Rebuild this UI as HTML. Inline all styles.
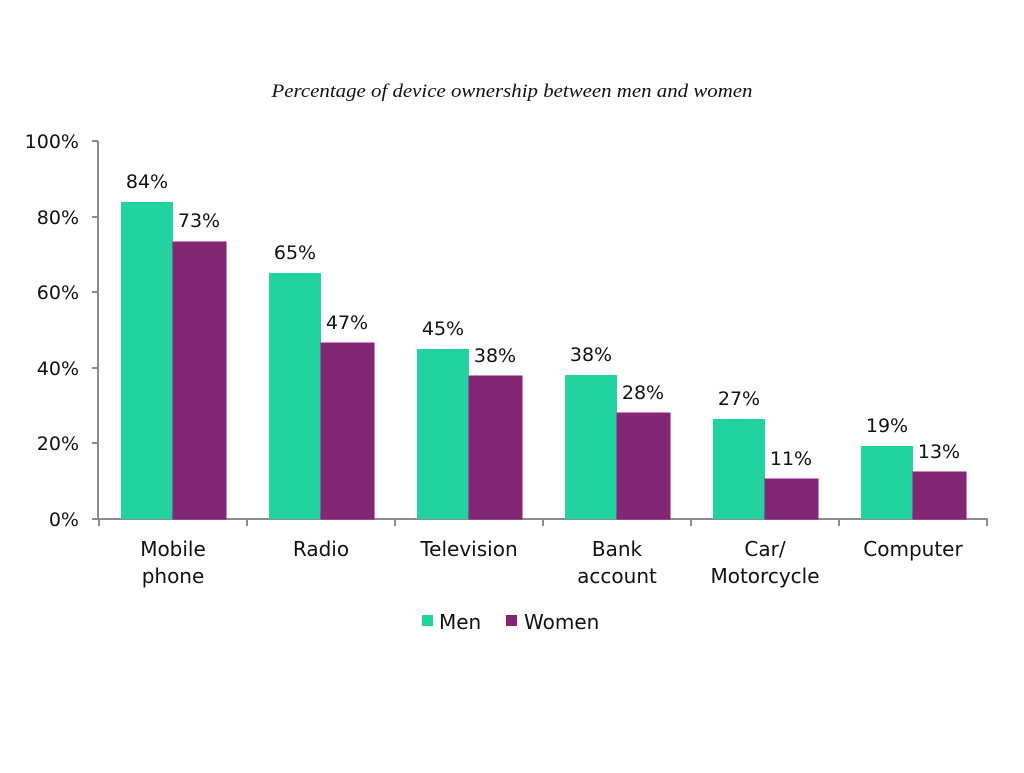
<!DOCTYPE html>
<html><head><meta charset="utf-8"><style>
html,body{margin:0;padding:0;background:#fff;}
svg text{font-family:"DejaVu Sans","Liberation Sans",sans-serif;fill:#111;}
</style></head><body>
<svg width="1024" height="768" viewBox="0 0 1024 768" xmlns="http://www.w3.org/2000/svg">
<rect width="1024" height="768" fill="#fff"/>
<text x="512" y="97" text-anchor="middle" style="font-family:'Liberation Serif',serif;font-style:italic;font-size:19px" textLength="481" lengthAdjust="spacingAndGlyphs">Percentage of device ownership between men and women</text>
<g stroke="#8c8c8c" stroke-width="2" fill="none">
<line x1="98" y1="141" x2="98" y2="520"/>
<line x1="97" y1="519" x2="988" y2="519"/>
<line x1="92" y1="141" x2="98" y2="141"/>
<line x1="92" y1="217" x2="98" y2="217"/>
<line x1="92" y1="292" x2="98" y2="292"/>
<line x1="92" y1="368" x2="98" y2="368"/>
<line x1="92" y1="443" x2="98" y2="443"/>
<line x1="92" y1="519" x2="98" y2="519"/>
<line x1="99" y1="519" x2="99" y2="526"/>
<line x1="247" y1="519" x2="247" y2="526"/>
<line x1="395" y1="519" x2="395" y2="526"/>
<line x1="543" y1="519" x2="543" y2="526"/>
<line x1="691" y1="519" x2="691" y2="526"/>
<line x1="839" y1="519" x2="839" y2="526"/>
<line x1="987" y1="519" x2="987" y2="526"/>
</g>
<g font-size="19" text-anchor="end">
<text x="79" y="148">100%</text>
<text x="79" y="224">80%</text>
<text x="79" y="299">60%</text>
<text x="79" y="375">40%</text>
<text x="79" y="450">20%</text>
<text x="79" y="526">0%</text>
</g>
<g>
<rect x="121" y="202" width="52" height="317" fill="#22D3A0"/>
<rect x="173" y="242" width="53" height="277" fill="#832674" stroke="#8f1a7f" stroke-width="1"/>
<rect x="269" y="273" width="52" height="246" fill="#22D3A0"/>
<rect x="321" y="343" width="53" height="176" fill="#832674" stroke="#8f1a7f" stroke-width="1"/>
<rect x="417" y="349" width="52" height="170" fill="#22D3A0"/>
<rect x="469" y="376" width="53" height="143" fill="#832674" stroke="#8f1a7f" stroke-width="1"/>
<rect x="565" y="375" width="52" height="144" fill="#22D3A0"/>
<rect x="617" y="413" width="53" height="106" fill="#832674" stroke="#8f1a7f" stroke-width="1"/>
<rect x="713" y="419" width="52" height="100" fill="#22D3A0"/>
<rect x="765" y="479" width="53" height="40" fill="#832674" stroke="#8f1a7f" stroke-width="1"/>
<rect x="861" y="446" width="52" height="73" fill="#22D3A0"/>
<rect x="913" y="472" width="53" height="47" fill="#832674" stroke="#8f1a7f" stroke-width="1"/>
</g>
<g font-size="19" text-anchor="middle">
<text x="147" y="188">84%</text>
<text x="199" y="227">73%</text>
<text x="295" y="259">65%</text>
<text x="347" y="329">47%</text>
<text x="443" y="335">45%</text>
<text x="495" y="362">38%</text>
<text x="591" y="361">38%</text>
<text x="643" y="399">28%</text>
<text x="739" y="405">27%</text>
<text x="791" y="465">11%</text>
<text x="887" y="432">19%</text>
<text x="939" y="458">13%</text>
</g>
<g font-size="20" text-anchor="middle">
<text x="173" y="556">Mobile</text>
<text x="173" y="583">phone</text>
<text x="321" y="556">Radio</text>
<text x="469" y="556">Television</text>
<text x="617" y="556">Bank</text>
<text x="617" y="583">account</text>
<text x="765" y="556">Car/</text>
<text x="765" y="583">Motorcycle</text>
<text x="913" y="556">Computer</text>
</g>
<rect x="422" y="615" width="11" height="11" fill="#22D3A0"/>
<text x="439" y="629" font-size="20">Men</text>
<rect x="506" y="615" width="11" height="11" fill="#832674"/>
<text x="524" y="629" font-size="20">Women</text>
</svg>
</body></html>
